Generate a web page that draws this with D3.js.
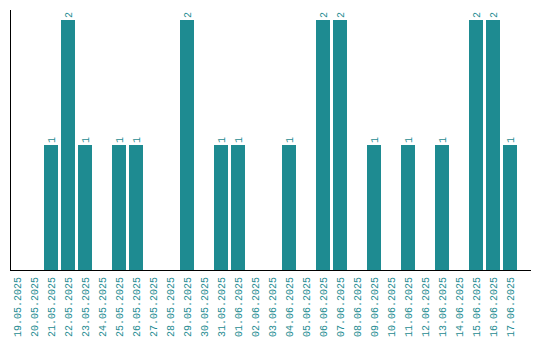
<!DOCTYPE html>
<html>
<head>
<meta charset="utf-8">
<script src="https://cdn.jsdelivr.net/npm/d3@7"></script>
<style>
  html, body { margin: 0; padding: 0; background: #fff; }
  svg { display: block; }
</style>
</head>
<body>
<svg id="chart" width="540" height="340"></svg>
<script>
const dates = ["19.05.2025","20.05.2025","21.05.2025","22.05.2025","23.05.2025","24.05.2025","25.05.2025","26.05.2025","27.05.2025","28.05.2025","29.05.2025","30.05.2025","31.05.2025","01.06.2025","02.06.2025","03.06.2025","04.06.2025","05.06.2025","06.06.2025","07.06.2025","08.06.2025","09.06.2025","10.06.2025","11.06.2025","12.06.2025","13.06.2025","14.06.2025","15.06.2025","16.06.2025","17.06.2025"];
const counts = [0,0,1,2,1,0,1,1,0,0,2,0,1,1,0,0,1,0,2,2,0,1,0,1,0,1,0,2,2,1];
const yMaxValue = 2;

const color = "#1e8b91";
const font = "Liberation Mono, monospace";
const svg = d3.select("#chart");
const mLeft = 10, mBottom = 270, mTop = 20, axisRight = 531;

const x = d3.scaleBand().domain(dates).range([mLeft, 517]).paddingInner(3/17).paddingOuter(0);
const y = d3.scaleLinear().domain([0, yMaxValue]).range([mBottom, mTop]);

const data = dates.map((d, i) => ({ date: d, value: counts[i] }));

svg.selectAll("rect.bar").data(data.filter(d => d.value > 0)).enter()
  .append("rect").attr("class", "bar")
  .attr("x", d => x(d.date))
  .attr("width", x.bandwidth())
  .attr("y", d => y(d.value))
  .attr("height", d => y(0) - y(d.value))
  .attr("fill", color);

svg.selectAll("text.val").data(data.filter(d => d.value > 0)).enter()
  .append("text").attr("class", "val")
  .attr("transform", d => `translate(${x(d.date) + x.bandwidth() / 2},${y(d.value) - 2}) rotate(-90)`)
  .attr("dy", "0.35em")
  .attr("text-anchor", "start")
  .attr("font-family", font)
  .attr("font-size", 10)
  .attr("fill", color)
  .text(d => d.value);

// axes lines
svg.append("line").attr("x1", mLeft + 0.5).attr("x2", mLeft + 0.5).attr("y1", 10).attr("y2", mBottom + 1)
  .attr("stroke", "#000").attr("stroke-width", 1);
svg.append("line").attr("x1", mLeft).attr("x2", axisRight).attr("y1", mBottom + 0.5).attr("y2", mBottom + 0.5)
  .attr("stroke", "#000").attr("stroke-width", 1);

svg.selectAll("text.date").data(dates).enter()
  .append("text").attr("class", "date")
  .attr("transform", d => `translate(${x(d) + x.bandwidth() / 2},277) rotate(-90)`)
  .attr("dy", "0.35em")
  .attr("text-anchor", "end")
  .attr("font-family", font)
  .attr("font-size", 10)
  .attr("fill", color)
  .text(d => d);
</script>
</body>
</html>
